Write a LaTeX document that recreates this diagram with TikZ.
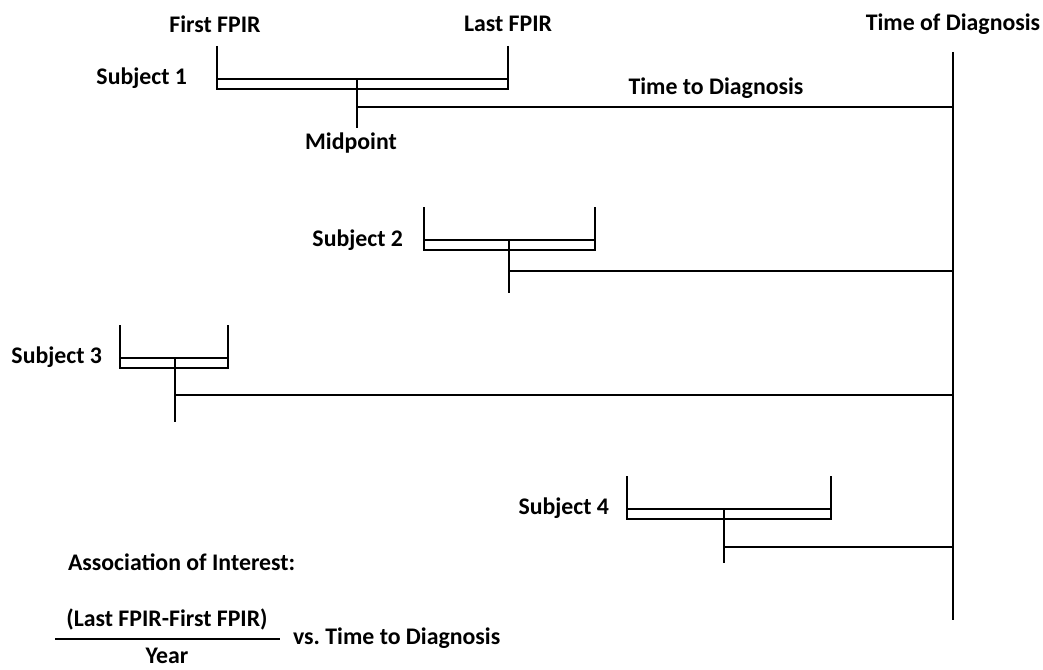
\documentclass[tikz,border=0pt]{standalone}
\usepackage{fontspec}
\setmainfont{Carlito}
\usetikzlibrary{positioning}

\begin{document}
\begin{tikzpicture}[x=1pt,y=-1pt,
  font=\bfseries\fontsize{23.8}{28}\selectfont,
  every path/.style={line width=2pt},
  bar/.style={draw,fill=white,line width=2.6pt},
  lbl/.style={inner sep=0pt}]
\useasboundingbox (0,0) rectangle (1043,669);
% time of diagnosis
\coordinate (dtop) at (953,52);
\coordinate (dbot) at (953,620);
\draw (dtop) -- (dbot);
\node[lbl] (diag) at (953,24) {Time of Diagnosis};
% subjects: number/first/last/midpoint/bar y/connector y/bottom/label x/label y
\foreach \n/\a/\b/\m/\y/\c/\t/\lx/\ly in {1/217/508/357/84/107/128/188/78,
  2/424/595/509/245/271/293/404/240,3/120/228/175/363/395/422/103/357,
  4/627/831/724/514/547/563/610/508}{
  \coordinate (f\n) at (\a,\y-38);
  \coordinate (l\n) at (\b,\y-38);
  \coordinate (m\n) at (\m,\y-5);
  \coordinate (mb\n) at (\m,\t);
  \coordinate (mc\n) at (\m,\c);
  \coordinate (d\n) at (953,\c);
  \draw (f\n) -- (\a,\y);
  \draw (l\n) -- (\b,\y);
  \draw[bar] (\a,\y-5) rectangle (\b,\y+5);
  \draw (m\n) -- (mb\n);
  \draw (mc\n) -- (d\n);
  \node[lbl,anchor=east] (s\n) at (\lx,\ly) {Subject \n};
}
\node[lbl] (first) at (215,24) {First FPIR};
\node[lbl] (last) at (508,24) {Last FPIR};
\node[lbl] (mid) at (351,143) {Midpoint};
\node[lbl] (ttd) at (716,88) {Time to Diagnosis};
% association
\node[lbl,anchor=west] (assoc) at (67,562) {Association of Interest:};
\coordinate (fl) at (55,639);
\coordinate (fr) at (280,639);
\draw (fl) -- (fr);
\node[lbl] (num) at (167,619) {(Last FPIR-First FPIR)};
\node[lbl] (den) at (167,656) {Year};
\node[lbl,anchor=west] (vs) at (292,638) {vs.\ Time to Diagnosis};
\end{tikzpicture}
\end{document}
